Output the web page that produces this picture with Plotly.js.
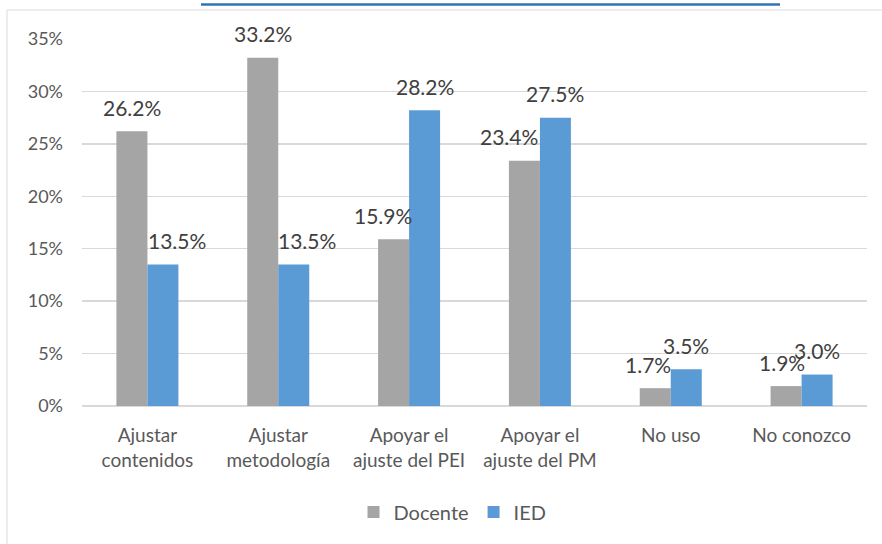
<!DOCTYPE html>
<html>
<head>
<meta charset="utf-8">
<script src="https://cdn.plot.ly/plotly-3.0.1.min.js"></script>
<style>
  html, body { margin: 0; padding: 0; background: #ffffff; }
  #chart { width: 882px; height: 544px; }
</style>
</head>
<body>
<div id="chart"></div>
<script>
// Usos del resultado de la evaluación, por grupo (%)
const categories = [
  'Ajustar<br>contenidos',
  'Ajustar<br>metodología',
  'Apoyar el<br>ajuste del PEI',
  'Apoyar el<br>ajuste del PM',
  'No uso',
  'No conozco'
];
const docente = [26.2, 33.2, 15.9, 23.4, 1.7, 1.9];
const ied = [13.5, 13.5, 28.2, 27.5, 3.5, 3.0];
const yTicks = [0, 5, 10, 15, 20, 25, 30, 35];
const yTickText = ['0%', '5%', '10%', '15%', '20%', '25%', '30%', '35%'];

// horizontal nudges (px) for the value labels so they don't collide
const nudgeDocente = [0, 0, -11, -15, -7, -4];
const nudgeIed = [14, 13, 0, 0, 0, 0];

const FONT = 'Lato, "Open Sans", sans-serif';
const GRAY = '#a5a5a5';
const BLUE = '#5b9bd5';
const GRID = '#d9d9d9';
const BARGAP = 0.526;
const half = (1 - BARGAP) / 4; // center offset of each bar inside a group

const traces = [
  { type: 'bar', name: 'Docente', x: categories, y: docente,
    marker: { color: GRAY }, hoverinfo: 'skip' },
  { type: 'bar', name: 'IED', x: categories, y: ied,
    marker: { color: BLUE }, hoverinfo: 'skip' }
];

const labels = [];
function addLabels(values, offset, nudge) {
  values.forEach((v, i) => {
    labels.push({
      x: i + offset, y: v, xref: 'x', yref: 'y',
      text: v.toFixed(1) + '%', showarrow: false,
      xanchor: 'center', yanchor: 'middle',
      xshift: nudge[i], yshift: 24,
      font: { family: FONT, size: 21, color: '#404040' }
    });
  });
}
addLabels(docente, -half, nudgeDocente);
addLabels(ied, half, nudgeIed);

const layout = {
  width: 882, height: 544,
  margin: { l: 82, r: 15, t: 39, b: 138 },
  paper_bgcolor: '#ffffff', plot_bgcolor: '#ffffff',
  barmode: 'group', bargap: BARGAP, bargroupgap: 0,
  font: { family: FONT, color: '#595959' },
  xaxis: {
    type: 'category', showgrid: false, zeroline: false, showline: false,
    ticks: '', ticklabelstandoff: 16,
    tickfont: { family: FONT, size: 19, color: '#595959' }
  },
  yaxis: {
    range: [0, 35], tickvals: yTicks, ticktext: yTickText,
    showgrid: true, gridcolor: GRID, gridwidth: 1.5,
    zeroline: true, zerolinecolor: GRID, zerolinewidth: 1.5,
    showline: false, ticks: '', ticklabelstandoff: 18,
    tickfont: { family: FONT, size: 18, color: '#595959' }
  },
  showlegend: true,
  legend: {
    orientation: 'h', x: 0.472, xanchor: 'center', y: -0.289, yanchor: 'middle',
    font: { family: FONT, size: 20, color: '#595959' },
    itemwidth: 30, traceorder: 'normal'
  },
  annotations: labels,
  shapes: [
    // outer frame of the chart area
    { type: 'rect', xref: 'paper', yref: 'paper',
      x0: (7 - 82) / 785, x1: 1.05, y0: -0.45, y1: (406 - 10) / 367,
      line: { color: GRID, width: 1 }, fillcolor: 'rgba(0,0,0,0)', layer: 'below' },
    // underline of the caption above
    { type: 'line', xref: 'paper', yref: 'paper',
      x0: (201 - 82) / 785, x1: (780 - 82) / 785,
      y0: (406 - 4.5) / 367, y1: (406 - 4.5) / 367,
      line: { color: '#2e74b5', width: 2.5 } }
  ]
};

Plotly.newPlot('chart', traces, layout, { staticPlot: true, displayModeBar: false });
</script>
</body>
</html>
